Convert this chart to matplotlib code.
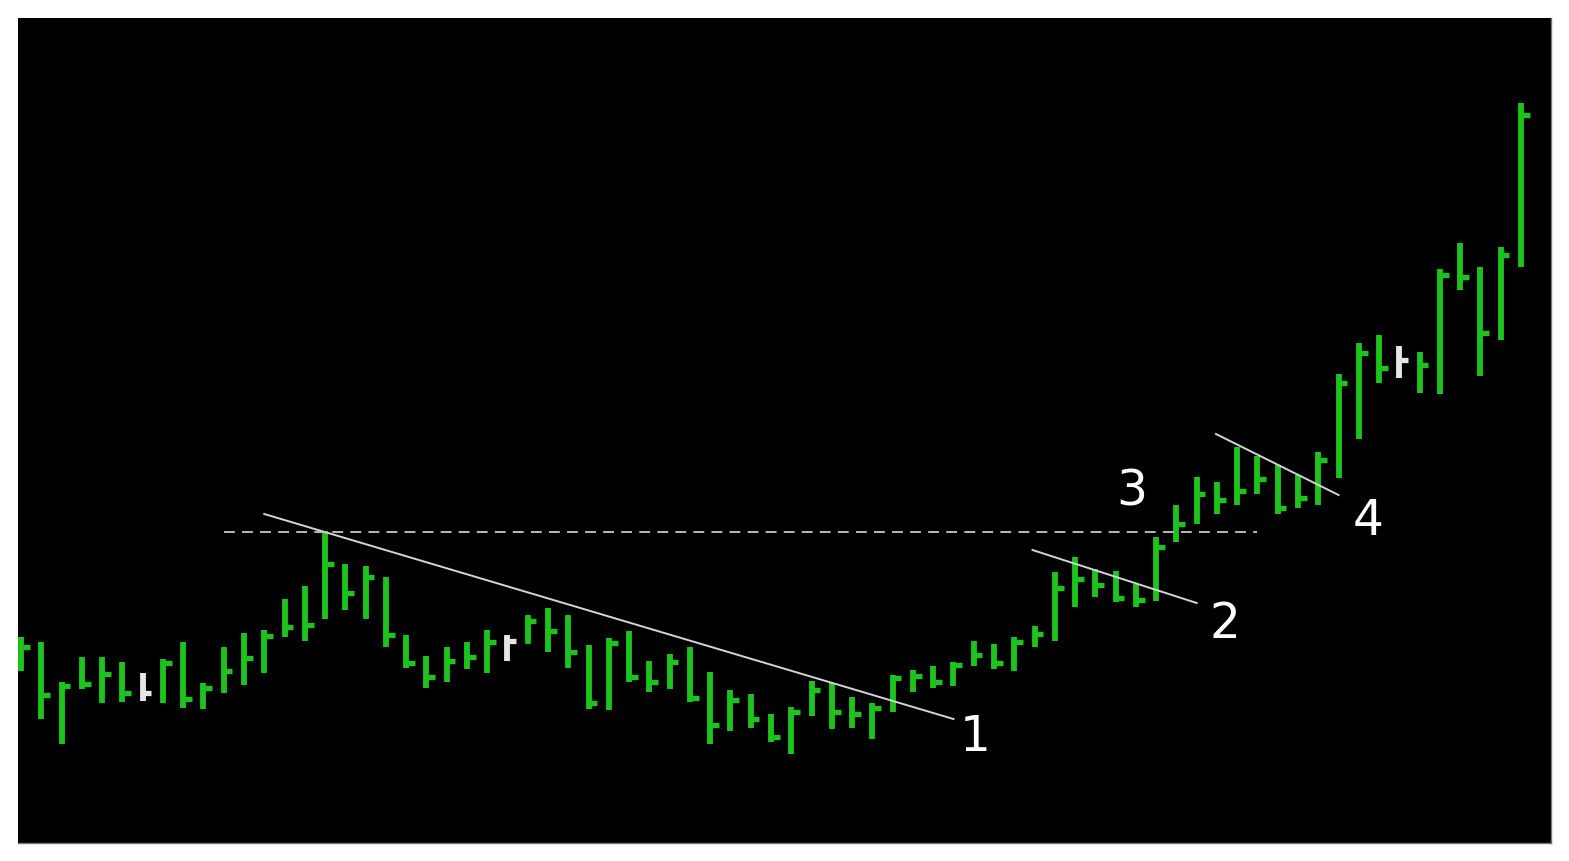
import numpy as np
import matplotlib
matplotlib.use("Agg")
import matplotlib.pyplot as plt

# price bars: high, low, close (one per session)
highs = [22.4, 21.9, 17.9, 20.4, 20.4, 19.9, 18.8, 20.2, 21.9, 17.8,
         21.4, 22.8, 23.1, 26.2, 27.5, 33.0, 29.7, 29.5, 28.4, 22.6,
         20.5, 21.4, 21.9, 23.1, 22.6, 24.6, 25.3, 24.6, 21.6, 22.3,
         23.0, 20.0, 20.7, 21.4, 18.9, 17.1, 16.7, 14.7, 15.4, 18.0,
         17.8, 16.4, 15.8, 18.6, 19.1, 19.5, 19.9, 22.0, 21.7, 22.4,
         23.5, 28.9, 30.4, 29.2, 29.0, 27.7, 32.4, 35.6, 38.4, 37.9,
         41.4, 40.5, 39.6, 38.6, 40.9, 48.7, 51.8, 52.6, 51.5, 50.9,
         59.2, 61.8, 59.4, 61.4, 75.8]
lows = [19.0, 14.2, 11.7, 17.2, 15.8, 15.9, 16.0, 15.8, 15.3, 15.2,
        16.8, 17.6, 18.8, 22.4, 22.0, 24.2, 25.1, 24.2, 21.4, 19.3,
        17.3, 17.9, 19.2, 18.8, 20.0, 21.7, 20.9, 19.3, 15.2, 15.1,
        17.9, 16.9, 17.2, 15.9, 11.7, 13.0, 13.3, 11.9, 10.7, 14.5,
        13.2, 13.3, 12.2, 14.9, 16.9, 17.3, 17.5, 19.5, 19.2, 19.0,
        21.4, 22.0, 25.4, 26.4, 25.9, 25.4, 26.0, 31.9, 33.7, 34.7,
        35.6, 36.7, 34.7, 35.3, 35.6, 38.3, 42.2, 47.8, 48.3, 46.8,
        46.7, 57.1, 48.5, 52.1, 59.4]
closes = [21.4, 16.6, 17.5, 17.7, 18.7, 16.8, 16.8, 19.8, 16.2, 17.3,
          19.0, 20.3, 22.5, 23.4, 23.6, 29.7, 26.8, 28.4, 22.6, 19.8,
          18.4, 20.0, 20.4, 21.9, 22.0, 24.0, 23.0, 20.9, 15.8, 21.8,
          18.4, 17.9, 19.9, 16.3, 13.6, 16.1, 14.2, 12.4, 14.9, 17.1,
          14.9, 14.7, 15.3, 18.3, 18.5, 17.9, 19.6, 20.6, 19.8, 21.9,
          22.7, 27.3, 28.2, 27.6, 26.3, 26.1, 31.4, 33.7, 36.7, 36.1,
          37.0, 38.2, 35.3, 36.3, 40.1, 47.8, 50.8, 49.3, 50.1, 49.6,
          58.6, 58.4, 52.8, 60.6, 74.6]
neutral_bars = [6, 24, 68]   # drawn in white

# annotations
trend_lines = [((12, 34.7), (46, 14.2)),
               ((49.9, 31.1), (58, 25.8)),
               ((58.95, 42.7), (65, 36.6))]
breakout_level = 32.9
breakout_span = (10, 61)
labels = ["1", "2", "3", "4"]
label_pos = [(47.06, 12.4), (59.4, 23.7), (54.8, 37.0), (66.45, 34.0)]

green = "#1ec41e"
white = "#e6e6e6"

fig = plt.figure(figsize=(15.69, 8.61), dpi=100)
fig.patch.set_facecolor("white")
ax = fig.add_axes([18 / 1569, 18 / 861, 1533 / 1569, 825 / 861])
ax.set_facecolor("black")

x = np.arange(len(closes))
colors = [white if i in neutral_bars else green for i in x]

ax.vlines(x, lows, highs, colors=colors, linewidth=4.2)
ax.hlines(closes, x + 0.08, x + 0.43, colors=colors, linewidth=3.8)

for (x0, y0), (x1, y1) in trend_lines:
    ax.plot([x0, x1], [y0, y1], color="#d4d4d4", linewidth=1.4)

ax.hlines(breakout_level, *breakout_span, colors="#c8c8c8",
          linewidth=1.3, linestyles=(0, (6, 4)))

for txt, (lx, ly) in zip(labels, label_pos):
    ax.text(lx, ly, txt, color="white", fontsize=35, family="DejaVu Sans",
            ha="center", va="center")

ax.set_xlim(-0.148, 75.48)
ax.set_ylim(1.8, 84.3)
ax.set_xticks([])
ax.set_yticks([])
for side in ["left", "top"]:
    ax.spines[side].set_visible(False)
for side in ["right", "bottom"]:
    ax.spines[side].set_color("#777777")
    ax.spines[side].set_linewidth(1)

fig.savefig("out.png", dpi=100, facecolor="white")
